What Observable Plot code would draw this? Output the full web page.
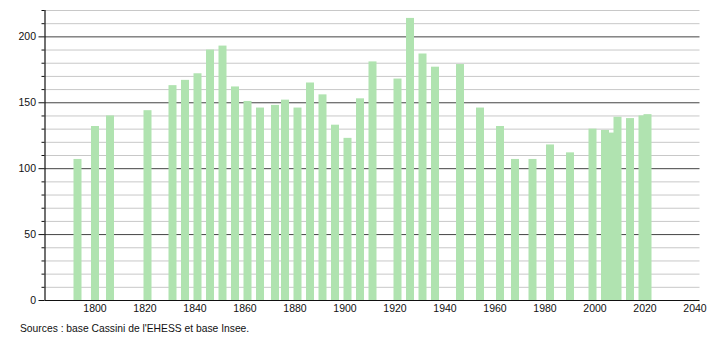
<!DOCTYPE html>
<html>
<head>
<meta charset="utf-8">
<script src="https://cdn.jsdelivr.net/npm/d3@7"></script>
<script src="https://cdn.jsdelivr.net/npm/@observablehq/plot@0.6"></script>
<style>
  body { margin: 0; background: #fff; font-family: "Liberation Sans", Arial, sans-serif; }
  #caption { font-size: 10.3px; line-height: 22px; height: 22px; padding-left: 20px; color: #111; }
  svg { display: block; }
</style>
</head>
<body>
<div id="chart"></div>
<div id="caption">Sources : base Cassini de l'EHESS et base Insee.</div>
<script>
const years = [1793,1800,1806,1821,1831,1836,1841,1846,1851,1856,1861,1866,1872,1876,1881,1886,1891,1896,1901,1906,1911,1921,1926,1931,1936,1946,1954,1962,1968,1975,1982,1990,1999,2004,2006,2009,2014,2019,2021];
const population = [107,132,140,144,163,167,172,190,193,162,151,146,148,152,146,165,156,133,123,153,181,168,214,187,177,179,146,132,107,107,118,112,130,129,127,139,138,140,141];
const xTicks = [1800,1820,1840,1860,1880,1900,1920,1940,1960,1980,2000,2020,2040];
const yMajor = [0,50,100,150,200];
const yMinor = [10,20,30,40,60,70,80,90,110,120,130,140,160,170,180,190,210,220];

const data = years.map((y, i) => ({year: y, pop: population[i]}));

const chart = Plot.plot({
  width: 710,
  height: 318,
  marginLeft: 44.5,
  marginRight: 10.5,
  marginTop: 10,
  marginBottom: 18,
  style: {fontFamily: "'Liberation Sans', Arial, sans-serif", fontSize: "10.5px", color: "#111", background: "#fff"},
  x: {domain: [1780, 2042]},
  y: {domain: [0, 220]},
  marks: [
    Plot.ruleY(yMinor, {stroke: "#c8c8c8", strokeWidth: 1}),
    Plot.ruleY(yMajor.filter(v => v > 0), {stroke: "#444", strokeWidth: 1}),
    Plot.rectY(data, {x1: d => d.year - 1.4, x2: d => d.year + 1.8, y: "pop", fill: "#b0e3b0"}),
    Plot.ruleY([0], {stroke: "#111", strokeWidth: 1.2}),
    Plot.ruleX([1780], {stroke: "#111", strokeWidth: 1.2}),
    Plot.axisY({ticks: yMinor, tickSize: 3, tickFormat: () => "", stroke: "#111", label: null}),
    Plot.axisY({ticks: yMajor, tickSize: 6, tickPadding: 3, tickFormat: d => String(d), stroke: "#111", label: null}),
    Plot.axisX({ticks: xTicks, tickSize: 0, tickPadding: 4, tickFormat: d => String(d), label: null})
  ]
});
document.getElementById("chart").appendChild(chart);
</script>
</body>
</html>
